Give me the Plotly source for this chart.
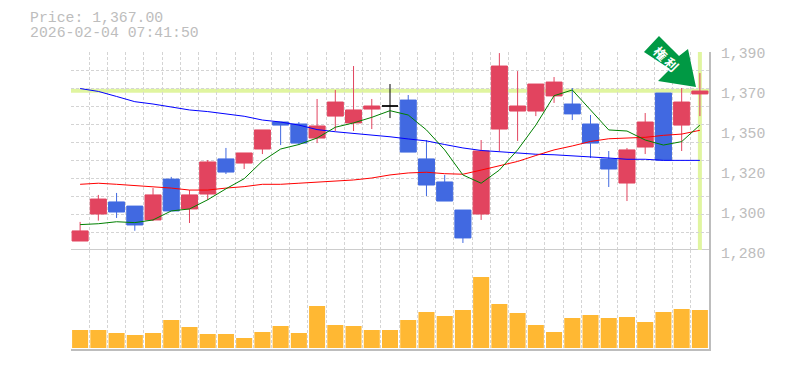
import plotly.graph_objects as go

W, H = 785, 370
PLOT_L, PLOT_R, PLOT_T, PLOT_B = 71.0, 709.0, 52.0, 349.0

session = list(range(35))
open_ = [1285,1300,1306.7,1304.4,1296.7,1319.4,1302.8,1311.1,1330.6,1328.3,1336.1,1351.1,1350,1342.2,1354.4,1350.6,1358.3,1360,1363.3,1330.6,1317.8,1302.2,1300,1347.2,1357.2,1357.2,1365.6,1361.1,1350,1330.6,1317.2,1337.2,1367.2,1349.4,1366.7]
high = [1295.6,1310.6,1311.7,1304.4,1314.4,1320.6,1313.3,1330,1336.7,1333.9,1346.7,1351.1,1351.1,1363.9,1368.9,1382.2,1363.9,1372.2,1366.1,1341.1,1321.7,1302.2,1341.1,1389.4,1379.4,1372.2,1376.1,1370,1355,1335,1336.7,1356.1,1367.2,1370,1378.3]
low = [1285,1296.3,1297.8,1290.7,1296.1,1301.7,1295,1307.8,1322.2,1325,1333.3,1338.3,1338.3,1339.4,1346.1,1346.1,1347.2,1353.3,1334.4,1310,1307.2,1283.9,1296.7,1335,1340.6,1354.4,1361.7,1352.2,1331.1,1315,1307.2,1333.3,1330,1335,1354.4]
close = [1290.6,1308.3,1301.1,1293.9,1310.6,1301.7,1310.6,1328.9,1323.3,1333.9,1346.7,1349.4,1339.4,1348.9,1362.2,1357.8,1360,1360,1334.4,1316.1,1307.2,1286.7,1335,1382.2,1360,1372.2,1373.3,1355.6,1339.4,1325,1335.6,1351.1,1330,1362.2,1368.3]

ma_short = [1294.1,1294.6,1295.7,1295.2,1296.7,1301.7,1302.8,1307.9,1314,1319.6,1329.4,1336.1,1338.6,1342.2,1348.2,1350.6,1353.7,1357.4,1355,1346.7,1335.6,1321.7,1317.1,1324.4,1335.6,1349.4,1365.7,1368.9,1357.8,1346.7,1346.1,1341.1,1338.3,1340.2,1349.4]
ma_mid = [1316.5,1317.1,1316.5,1315.9,1315.2,1314.4,1313.3,1313.3,1314.4,1315.2,1316.5,1316.5,1317.1,1317.8,1318.1,1318.9,1320,1321.7,1322.8,1323.2,1322.4,1322.1,1324.4,1326.8,1329.2,1332.5,1335.6,1337.8,1340.3,1341.8,1342.1,1342.6,1343.7,1344.4,1346.5]
ma_long = [1369.7,1368.1,1365.3,1362.4,1361.1,1359.3,1357.8,1356.9,1355.6,1354.3,1352.2,1351.1,1349.4,1346.9,1345.7,1344.8,1344.1,1342.9,1341.7,1340.6,1338.6,1336.7,1335.3,1334.6,1333.5,1333.2,1332.9,1332.4,1331.7,1331.1,1330.4,1330.4,1329.8,1329.8,1329.8]
volume = [18,18,15,13,15,28,21,14,14,10,16,22,15,42,23,22,18,18,28,36,32,38,71,44,35,23,16,30,33,30,31,26,36,39,38]

date_labels = ["12/18","12/25","1/6","1/14","1/21","1/28","2/4"]
date_positions = [4.16,9.2,13.88,19.03,24,28.98,33.88]
price_labels = ["1,390","1,370","1,350","1,320","1,300","1,280"]
price_positions = [1389.4,1367.2,1345,1322.8,1300.6,1278.3]

current_price = 1367
current_session = 34
doji_session = 17
title_lines = ["Price: 1,367.00", "2026-02-04 07:41:50"]

RED, BLUE = "#E2445F", "#4169E1"
GRID, BORDER, TEXT = "#d4d4d4", "#bdbdbd", "#bdbdbd"
MONO = "Liberation Mono"


def px(x, y):
    return (x - PLOT_L) / (PLOT_R - PLOT_L), (PLOT_B - y) / (PLOT_B - PLOT_T)


fig = go.Figure()
# carries the labelled axes that overlay the gridded ones
fig.add_trace(go.Scatter(x=[None], y=[None], xaxis="x3", yaxis="y3", showlegend=False))
for name, vals, col in [("MA75", ma_long, "#0000ff"), ("MA25", ma_mid, "#ff0000"), ("MA5", ma_short, "#008000")]:
    fig.add_trace(go.Scatter(x=session, y=vals, mode="lines", name=name,
                             line=dict(color=col, width=1), xaxis="x", yaxis="y"))

idx = [i for i in session if i != doji_session]
fig.add_trace(go.Candlestick(
    x=idx, open=[open_[i] for i in idx], high=[high[i] for i in idx],
    low=[low[i] for i in idx], close=[close[i] for i in idx],
    increasing=dict(line=dict(color=RED, width=1), fillcolor=RED),
    decreasing=dict(line=dict(color=BLUE, width=1), fillcolor=BLUE),
    whiskerwidth=0, xaxis="x", yaxis="y", name="Price"))
fig.add_trace(go.Candlestick(
    x=[doji_session], open=[open_[doji_session]], high=[high[doji_session]],
    low=[low[doji_session]], close=[close[doji_session]],
    increasing=dict(line=dict(color="#000000", width=1), fillcolor="#000000"),
    decreasing=dict(line=dict(color="#000000", width=1), fillcolor="#000000"),
    whiskerwidth=0, xaxis="x", yaxis="y", name="Doji"))
fig.add_trace(go.Bar(x=session, y=volume, marker=dict(color="#FFB833", line=dict(width=0)),
                     xaxis="x2", yaxis="y2", name="Volume"))

x_grid = dict(tickmode="linear", tick0=-0.5, dtick=1, showgrid=True, gridcolor=GRID,
              griddash="3px,2px", gridwidth=1, ticks="", zeroline=False, showticklabels=False)
x_range = [-0.5, 34.5]
main_bottom = 254.0
y_range = [1280 - (main_bottom - 250) / 1.8, 1390]
main_domain = [(PLOT_B - main_bottom) / (PLOT_B - PLOT_T), 1]
fig.update_layout(
    width=W, height=H, autosize=False,
    margin=dict(l=PLOT_L, r=W - PLOT_R, t=PLOT_T, b=H - PLOT_B, pad=0),
    paper_bgcolor="white", plot_bgcolor="white",
    showlegend=False, hovermode=False, bargap=0.12, boxgap=0.12, boxgroupgap=0,
    xaxis=dict(domain=[0, 1], range=x_range, anchor="y", rangeslider=dict(visible=False),
               showline=False, **x_grid),
    xaxis2=dict(domain=[0, 1], range=x_range, anchor="y2",
                showline=True, linecolor=BORDER, linewidth=2, **x_grid),
    xaxis3=dict(domain=[0, 1], range=x_range, anchor="y3", overlaying="x", side="bottom",
                tickmode="array", tickvals=date_positions, ticktext=date_labels,
                showgrid=False, showline=False, zeroline=False, ticks="",
                tickfont=dict(family=MONO, size=10, color=TEXT)),
    yaxis=dict(domain=main_domain, range=y_range, anchor="x", side="right",
               tickmode="linear", tick0=1280, dtick=10, showgrid=True, gridcolor=GRID,
               griddash="3px,2px", gridwidth=1, showticklabels=False,
               zeroline=False, showline=True, linecolor=BORDER, linewidth=2, ticks=""),
    yaxis2=dict(domain=[0, (PLOT_B - 250) / (PLOT_B - PLOT_T)], range=[-1, 98], anchor="x2",
                side="right", showticklabels=False, showgrid=False, zeroline=False,
                showline=True, linecolor=BORDER, linewidth=2, ticks=""),
    yaxis3=dict(domain=main_domain, range=y_range, anchor="x3", overlaying="y", side="right",
                tickmode="array", tickvals=price_positions, ticktext=price_labels,
                showgrid=False, zeroline=False, showline=False,
                ticks="outside", ticklen=8, tickcolor="rgba(0,0,0,0)",
                tickfont=dict(family=MONO, size=14.8, color=TEXT)),
)

fig.add_shape(type="line", xref="x", yref="y", x0=x_range[0], x1=x_range[1],
              y0=current_price + 1.5, y1=current_price + 1.5,
              line=dict(color="#E0F5A0", width=4), layer="below")
fig.add_shape(type="line", xref="x", yref="y", x0=current_session, x1=current_session, y0=1280, y1=1390.5,
              line=dict(color="#E0F5A0", width=4), layer="below")
fig.add_shape(type="line", xref="paper", yref="y", x0=0, x1=1, y0=1280, y1=1280,
              line=dict(color=BORDER, width=1.5), layer="below")

arrow_outline = [(644, 52), (659, 36), (679, 56), (688, 49), (696, 87), (658, 81), (670, 69)]
path = "M " + " L ".join("%.4f %.4f" % px(x, y) for x, y in arrow_outline) + " Z"
fig.add_shape(type="path", xref="paper", yref="paper", path=path,
              fillcolor="#009944", line=dict(width=0), layer="above")

ax, ay = px(666, 58.5)
fig.add_annotation(text="<b>権\u2009利</b>", xref="paper", yref="paper", x=ax, y=ay, showarrow=False,
                   textangle=45, xanchor="center", yanchor="middle",
                   font=dict(family="Noto Sans CJK JP", size=13, color="white"))
for line, yy in zip(title_lines, [18, 33]):
    tx, ty = px(29, yy)
    fig.add_annotation(text=line, xref="paper", yref="paper", x=tx, y=ty, showarrow=False,
                       xanchor="left", yanchor="middle", borderpad=0, height=14,
                       font=dict(family=MONO, size=14.8, color=TEXT))

fig.write_html("out.html", config={"displayModeBar": False},
               post_script="document.body.style.margin='0';")
